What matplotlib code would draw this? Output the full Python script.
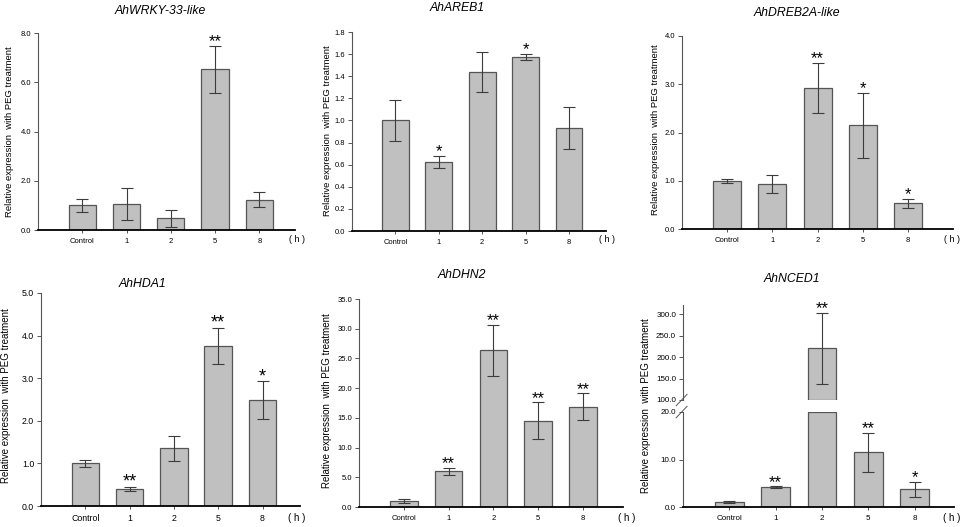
import matplotlib
matplotlib.use("Agg")
import matplotlib.pyplot as plt
import numpy as np
from matplotlib import rc

rc('font', family='Liberation Sans')
rc('axes', linewidth=0.8)

# data
cats = ['Control', '1', '2', '5', '8']

wrky_mean = [1.00, 1.05, 0.48, 6.52, 1.23]
wrky_err = [0.26, 0.66, 0.34, 0.96, 0.30]
wrky_sig = ['', '', '', '**', '']

areb_mean = [1.00, 0.625, 1.435, 1.575, 0.93]
areb_err = [0.185, 0.055, 0.18, 0.025, 0.19]
areb_sig = ['', '*', '', '*', '']

dreb_mean = [1.00, 0.93, 2.93, 2.15, 0.53]
dreb_err = [0.04, 0.19, 0.52, 0.67, 0.10]
dreb_sig = ['', '', '**', '*', '*']

hda_mean = [1.00, 0.40, 1.35, 3.76, 2.49]
hda_err = [0.08, 0.055, 0.29, 0.43, 0.45]
hda_sig = ['', '**', '', '**', '*']

dhn_mean = [1.0, 6.0, 26.4, 14.5, 16.9]
dhn_err = [0.3, 0.6, 4.3, 3.1, 2.2]
dhn_sig = ['', '**', '**', '**', '**']

nced_mean = [1.0, 4.2, 220.0, 11.5, 3.7]
nced_err = [0.2, 0.15, 83.0, 4.1, 1.65]
nced_sig = ['', '**', '**', '**', '*']

ylab = 'Relative expression  with PEG treatment'

W, H = 964, 527
fig = plt.figure(figsize=(W / 100, H / 100), dpi=100)

BAR = '#c0c0c0'
EDGE = '#555555'
ERR = '#3c3c3c'
CAP = 4.5
STAR = 12


def px_axes(left, top, right, bottom):
    return fig.add_axes([left / W, 1 - bottom / H, (right - left) / W, (bottom - top) / H])


def style(ax, fs):
    for s in ['top', 'right']:
        ax.spines[s].set_visible(False)
    ax.spines['left'].set_color('#555555')
    ax.spines['bottom'].set_color('black')
    ax.spines['bottom'].set_linewidth(1.3)
    ax.tick_params(axis='y', direction='out', length=3, width=0.7,
                   labelsize=fs, pad=2, color='#555555')
    ax.tick_params(axis='x', direction='out', length=2, width=0.7,
                   labelsize=fs, pad=4, color='#555555')


def stars(ax, x, tops, sigs, fs):
    for xi, t, s in zip(x, tops, sigs):
        if s:
            ax.annotate(s, (xi, t), xytext=(0, 3), textcoords='offset points',
                        ha='center', va='center', fontsize=fs,
                        annotation_clip=False)


def bars(ax, means, errs, sigs, starfs=STAR, mask=None):
    x = np.arange(len(means))
    m = np.asarray(means, float)
    e = np.asarray(errs, float)
    if mask is None:
        mask = np.ones(len(m), bool)
    ax.bar(x, m, width=0.62, color=BAR, edgecolor=EDGE, linewidth=0.9, zorder=2)
    ax.errorbar(x[mask], m[mask], yerr=e[mask], fmt='none', ecolor=ERR,
                elinewidth=0.8, capsize=CAP, capthick=0.8, zorder=3)
    stars(ax, x[mask], (m + e)[mask], np.asarray(sigs)[mask], starfs)
    ax.set_xticks(x)
    ax.set_xticklabels(cats)


def panel(left, top, bottom, spacing, xr, means, errs, sigs, ymax, ystep,
          fs=5.5, starfs=STAR):
    right = left + spacing * (xr + 1)
    ax = px_axes(left, top, right, bottom)
    bars(ax, means, errs, sigs, starfs)
    ax.set_xlim(-1, xr)
    ax.set_ylim(0, ymax)
    ax.set_yticks(np.arange(0, ymax + ystep / 2, ystep))
    ax.yaxis.set_major_formatter(matplotlib.ticker.FormatStrFormatter('%.1f'))
    style(ax, fs)
    return ax


def hlabel(x, y, fs):
    fig.text(x / W, 1 - y / H, '( h )', ha='center', va='center', fontsize=fs)


def title(x, y, s):
    fig.text(x / W, 1 - y / H, s, ha='center', va='center', fontsize=8.8, style='italic')


def ylabel(x, y, fs):
    fig.text(x / W, 1 - y / H, ylab, ha='center', va='center', rotation=90, fontsize=fs)


# top row
panel(38, 33, 230, 44.25, 4.8, wrky_mean, wrky_err, wrky_sig, 8.0, 2.0, fs=5.5)
title(160, 11, 'AhWRKY-33-like')
ylabel(10, 132, 6.8)
hlabel(297, 240, 6.5)

panel(352, 32, 231, 43.4, 4.85, areb_mean, areb_err, areb_sig, 1.8, 0.2, fs=5.4)
title(457, 8, 'AhAREB1')
ylabel(327, 131, 6.8)
hlabel(607, 240, 6.5)

panel(682, 36, 229, 45.2, 5.0, dreb_mean, dreb_err, dreb_sig, 4.0, 1.0, fs=5.5)
title(797, 13, 'AhDREB2A-like')
ylabel(655, 130, 6.8)
hlabel(952, 239, 6.5)

# bottom row
panel(41, 293, 506, 44.3, 4.85, hda_mean, hda_err, hda_sig, 5.0, 1.0, fs=6.3, starfs=13)
title(142, 284, 'AhHDA1')
ylabel(6, 396, 7)
hlabel(297, 518, 7)

panel(359, 299, 507, 44.8, 4.9, dhn_mean, dhn_err, dhn_sig, 35.0, 5.0, fs=5.5)
title(462, 275, 'AhDHN2')
ylabel(327, 401, 7)
hlabel(627, 518, 7)

# broken axis panel
left, spacing, xr = 683, 46.3, 4.85
right = left + spacing * (xr + 1)
lo_top, up_bot = 20.0, 100.0
m = np.asarray(nced_mean, float)
x = np.arange(len(m))

ax_lo = px_axes(left, 412, right, 507)
bars(ax_lo, np.minimum(m, lo_top), nced_err, nced_sig, mask=m <= lo_top)
ax_lo.set_xlim(-1, xr)
ax_lo.set_ylim(0, lo_top)
ax_lo.set_yticks([0, 10, 20])
ax_lo.yaxis.set_major_formatter(matplotlib.ticker.FormatStrFormatter('%.1f'))
style(ax_lo, 5.8)

ax_up = px_axes(left, 305, right, 400)
up = m > up_bot
ax_up.bar(x[up], m[up] - up_bot, bottom=up_bot, width=0.62,
          color=BAR, edgecolor=EDGE, linewidth=0.9, zorder=2)
ax_up.errorbar(x[up], m[up], yerr=np.asarray(nced_err)[up],
               fmt='none', ecolor=ERR, elinewidth=0.8, capsize=CAP, capthick=0.8)
stars(ax_up, x[up], (m + np.asarray(nced_err))[up], np.asarray(nced_sig)[up], STAR)
ax_up.set_xlim(-1, xr)
ax_up.set_ylim(up_bot, 321)
ax_up.set_yticks([100, 150, 200, 250, 300])
ax_up.yaxis.set_major_formatter(matplotlib.ticker.FormatStrFormatter('%.1f'))
style(ax_up, 5.8)
ax_up.spines['bottom'].set_visible(False)
ax_up.set_xticks([])

# break marks
for ax, y0 in [(ax_up, 0.0), (ax_lo, 1.0)]:
    ax.plot([-0.025, 0.015], [y0 - 0.06, y0 + 0.06], transform=ax.transAxes,
            color='#555555', lw=0.7, clip_on=False)

title(792, 279, 'AhNCED1')
ylabel(646, 406, 7)
hlabel(952, 518, 7)

fig.savefig('out.png', dpi=100)
